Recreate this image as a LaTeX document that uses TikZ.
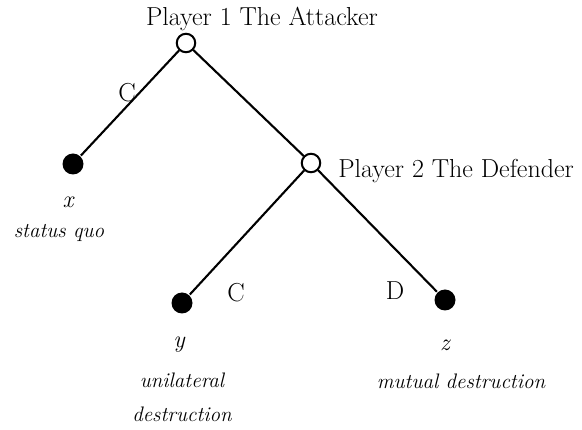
\documentclass[tikz,border=0pt]{standalone}
\usepackage{xcolor}
\usepackage{tikz}
\usetikzlibrary{positioning}

\tikzset{
  decnode/.style={circle,draw,line width=2pt,fill=white,minimum size=18.5pt,inner sep=0pt},
  endnode/.style={circle,fill=black,minimum size=21pt,inner sep=0pt},
  lbl/.style={font=\fontsize{26}{31}\selectfont},
  outc/.style={font=\fontsize{21}{25}\selectfont\itshape}
}

\begin{document}
\begin{tikzpicture}[x=1pt,y=-1pt,line width=2.1pt]
    \useasboundingbox (0,0) rectangle (582,430);
    % ---------- decision nodes ----------
    \node[decnode] (att) at (186,43) {};
    \node[decnode] (def) at (311,163) {};
    % ---------- terminal nodes ----------
    \node[endnode] (tx) at (73,164) {};
    \node[endnode] (ty) at (182,303) {};
    \node[endnode] (tz) at (445,300) {};
    % ---------- branches ----------
    \draw (att) -- (tx);
    \draw (att) -- (def);
    \draw (def) -- (ty);
    \draw (def) -- (tz);
    % ---------- players and moves ----------
    \node[lbl] (p1) at (262,19) {Player 1 The Attacker};
    \node[lbl,anchor=west] (p2) at (334,171) {Player 2 The Defender};
    \node[lbl] (c1) at (127,93) {C};
    \node[lbl] (c2) at (236,293) {C};
    \node[lbl] (d2) at (395,291) {D};
    % ---------- outcomes ----------
    \node[outc,font=\fontsize{24}{28}\selectfont\itshape] (ox) at (68,202) {x};
    \node[outc] (sq) at (59,233) {status quo};
    \node[outc,font=\fontsize{24}{28}\selectfont\itshape] (oy) at (179,345) {y};
    \node[outc] (un) at (182,380) {unilateral};
    \node[outc] (de) at (182,414) {destruction};
    \node[outc,font=\fontsize{24}{28}\selectfont\itshape] (oz) at (445,345) {z};
    \node[outc] (md) at (461,381) {mutual destruction};
\end{tikzpicture}
\end{document}
